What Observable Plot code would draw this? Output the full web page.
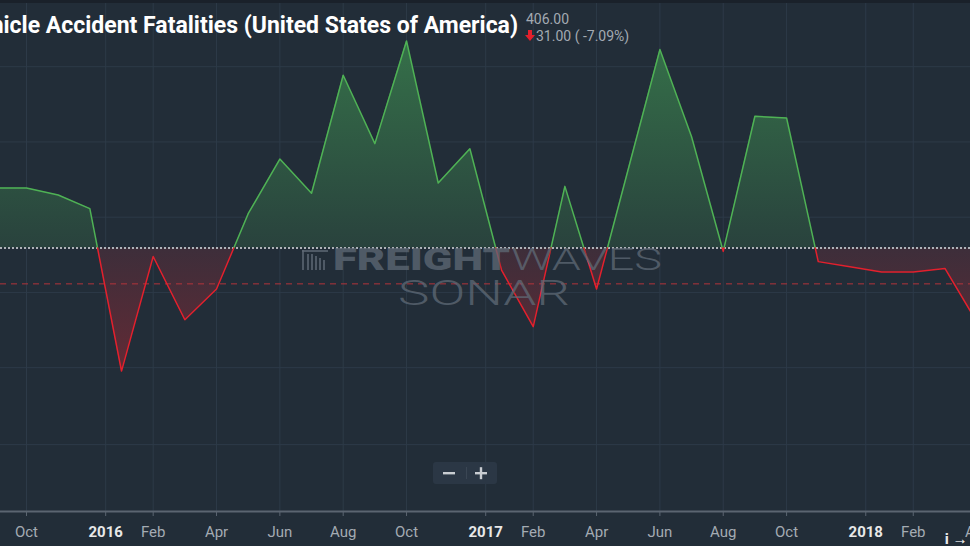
<!DOCTYPE html>
<html><head><meta charset="utf-8">
<script src="https://cdn.jsdelivr.net/npm/d3@7"></script>
<script src="https://cdn.jsdelivr.net/npm/@observablehq/plot@0.6"></script>
<style>
html,body{margin:0;padding:0;background:#222d38;}
#wrap{position:relative;width:970px;height:546px;overflow:hidden;background:#222d38;font-family:Roboto,"Noto Sans",sans-serif;}
#topbar{position:absolute;left:0;top:0;width:970px;height:3px;background:#1a212a;}
#title{position:absolute;right:452px;top:13.5px;font-size:23px;line-height:23px;font-weight:700;color:#ffffff;white-space:nowrap;}
#val{position:absolute;left:526px;top:12px;font-size:14px;line-height:14px;color:#a3aab2;}
#chg{position:absolute;left:536px;top:28.5px;font-size:14px;line-height:14px;color:#a3aab2;}
#arrow{position:absolute;left:525px;top:30px;}
#wm{position:absolute;left:0;top:0;pointer-events:none;}
#zoomBtns{position:absolute;left:433px;top:462px;width:64px;height:22px;background:#2b3745;border-radius:3px;}
#chart{position:absolute;left:0;top:0;}
</style></head><body>
<div id="wrap">
  <div id="chart"></div>
  <div id="topbar"></div>
  <div id="title">Motor Vehicle Accident Fatalities (United States of America)</div>
  <div id="val">406.00</div>
  <svg id="arrow" width="10" height="11"><path d="M3,0 H7 V5 H10 L5,11 L0,5 H3 Z" fill="#e3202c"/></svg>
  <div id="chg">31.00 ( -7.09%)</div>
  <div id="zoomBtns">
    <svg width="64" height="22">
      <rect x="10" y="10" width="12" height="2.4" fill="#c9cdd2"/>
      <rect x="33" y="5" width="1" height="12" fill="#3a4654"/>
      <rect x="42" y="10" width="12" height="2.4" fill="#c9cdd2"/>
      <rect x="46.8" y="5.2" width="2.4" height="12" fill="#c9cdd2"/>
    </svg>
  </div>
</div>
<script>
// ---- data ----
const months = ["2015-09","2015-10","2015-11","2015-12","2016-01","2016-02","2016-03","2016-04","2016-05","2016-06","2016-07","2016-08","2016-09","2016-10","2016-11","2016-12","2017-01","2017-02","2017-03","2017-04","2017-05","2017-06","2017-07","2017-08","2017-09","2017-10","2017-11","2017-12","2018-01","2018-02","2018-03","2018-04"];
const values = [484,484,480,472,377,444,407,425,469,501,481,550,510,570,487,507,436,403,485,425,495,565,514,447,526,525,441,438,435,435,437,406];
const threshold = 449;
const dashedLevel = 428;
const yGridTicks = [334,379,423,467,511,555];
const monthTickLabels = ["Oct","Feb","Apr","Jun","Aug","Oct","Feb","Apr","Jun","Aug","Oct","Feb","Apr"];
const monthTickDates = ["2015-10","2016-02","2016-04","2016-06","2016-08","2016-10","2017-02","2017-04","2017-06","2017-08","2017-10","2018-02","2018-04"];
const yearTickLabels = ["2016","2017","2018"];
// ordinal axis: year ticks fall halfway between December and February points
const yearTickDates = ["2015-12","2016-12","2017-12"];

// ---- build ----
const idx0 = months.indexOf("2015-10");
const monthIndex = m => months.indexOf(m) - idx0;
const pts = values.map((v,k)=>({i:k-idx0, v}));
const aug = [];
for (let k=0;k<pts.length;k++){
  const p = pts[k];
  if (k>0){
    const q = pts[k-1];
    if ((q.v-threshold)*(p.v-threshold) < 0){
      const t = (threshold-q.v)/(p.v-q.v);
      aug.push({i:q.i + t*(p.i-q.i), v:threshold});
    }
  }
  aug.push(p);
}
const runs = [];
let run=-1, prevUp=null;
for (let k=1;k<aug.length;k++){
  const a=aug[k-1], b=aug[k];
  const up = (a.v+b.v)/2 >= threshold;
  if (up!==prevUp){ run++; prevUp=up; runs.push({...a, run, up}); }
  runs.push({...b, run, up});
}
const monthTicks = monthTickDates.map(monthIndex);
const yearTicks = yearTickDates.map(d=>monthIndex(d)+0.5);
const allTicks = monthTicks.concat(yearTicks);
const mLab = new Map(monthTicks.map((t,k)=>[t, monthTickLabels[k]]));
const yLab = new Map(yearTicks.map((t,k)=>[t, yearTickLabels[k]]));

const pxPerMonth = 31.67, firstPx = 26;
const chart = Plot.plot({
  width: 970, height: 546,
  marginTop: 0, marginBottom: 34, marginLeft: 0, marginRight: 0,
  style: {background: "transparent", fontFamily: "Roboto, sans-serif", fontSize: "15px", overflow: "visible"},
  x: {type: "linear", domain: [-firstPx/pxPerMonth, (970-firstPx)/pxPerMonth], axis: null},
  y: {domain: [294.3, 593.7], axis: null},
  marks: [
    Plot.gridY(yGridTicks, {stroke: "#2d3a48", strokeOpacity: 1}),
    Plot.gridX(allTicks, {stroke: "#2d3a48", strokeOpacity: 1}),
    Plot.areaY(aug, {x: "i", y1: threshold, y2: d=>Math.max(d.v, threshold), fill: "url(#gUp)"}),
    Plot.areaY(aug, {x: "i", y1: threshold, y2: d=>Math.min(d.v, threshold), fill: "url(#gDown)"}),
    Plot.ruleY([dashedLevel], {stroke: "#b3343b", strokeWidth: 1, strokeDasharray: "6,5"}),
    Plot.ruleY([threshold], {stroke: "#aeb3b8", strokeWidth: 2, strokeDasharray: "2,2"}),
    Plot.line(runs.filter(d=>d.up), {x: "i", y: "v", z: "run", stroke: "#4fb255", strokeWidth: 1.5}),
    Plot.line(runs.filter(d=>!d.up), {x: "i", y: "v", z: "run", stroke: "#e4202d", strokeWidth: 1.5}),
    Plot.ruleY([294.3], {stroke: "#5b6571", strokeWidth: 2, dy: -1}),
    Plot.axisX(monthTicks, {tickFormat: d=>mLab.get(d), tickSize: 4, tickPadding: 10, stroke: "#5b6571", fill: "#a4abb3", fontSize: 15}),
    Plot.axisX(yearTicks, {tickFormat: d=>yLab.get(d), tickSize: 4, tickPadding: 10, stroke: "#5b6571", fill: "#e8e8e8", fontSize: 15, fontWeight: "bold"})
  ]
});
const ys = chart.scale("y");
const defs = d3.select(chart).insert("defs", ":first-child");
const gu = defs.append("linearGradient").attr("id","gUp").attr("gradientUnits","userSpaceOnUse")
  .attr("x1",0).attr("x2",0).attr("y1", ys.apply(d3.max(values))).attr("y2", ys.apply(threshold));
gu.append("stop").attr("offset","0").attr("stop-color","#357049");
gu.append("stop").attr("offset","1").attr("stop-color","#29423d");
const gd = defs.append("linearGradient").attr("id","gDown").attr("gradientUnits","userSpaceOnUse")
  .attr("x1",0).attr("x2",0).attr("y1", ys.apply(threshold)).attr("y2", ys.apply(d3.min(values)));
gd.append("stop").attr("offset","0").attr("stop-color","#3d2e3a");
gd.append("stop").attr("offset","1").attr("stop-color","#622a35");
document.getElementById("chart").appendChild(chart);

// watermark
const wm = `<svg id="wm" width="970" height="546">
 <g fill="#5f6a76" fill-opacity="0.75">
  <rect x="302" y="250" width="26" height="2"/>
  <rect x="302" y="250" width="2" height="20"/>
  <rect x="307" y="254" width="2" height="16"/>
  <rect x="311" y="254" width="2" height="16"/>
  <rect x="315" y="256" width="2" height="14"/>
  <rect x="319" y="258" width="2" height="12"/>
  <rect x="323" y="260" width="2" height="10"/>
  <text x="333" y="270" font-family="Roboto, sans-serif" font-weight="900" font-size="31" textLength="177" lengthAdjust="spacingAndGlyphs">FREIGHT</text>
  <text x="511" y="270" font-family="Roboto, sans-serif" font-weight="300" font-size="31" textLength="151" lengthAdjust="spacingAndGlyphs">WAVES</text>
  <text x="398" y="305" font-family="Roboto, sans-serif" font-weight="300" font-size="35" textLength="172" lengthAdjust="spacingAndGlyphs">SONAR</text>
 </g></svg>`;
document.getElementById("wrap").insertAdjacentHTML("beforeend", wm);
</script>
</body></html>
